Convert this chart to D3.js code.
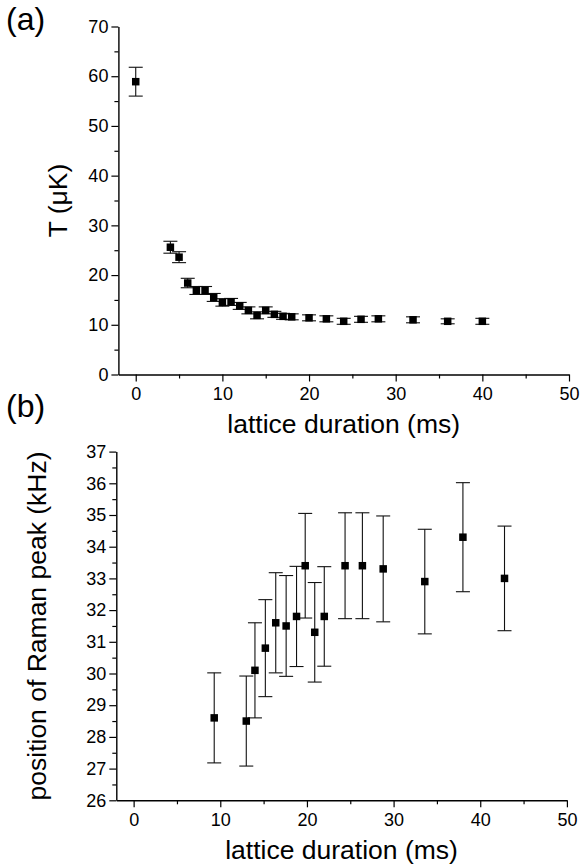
<!DOCTYPE html>
<html><head><meta charset="utf-8">
<script src="https://cdn.jsdelivr.net/npm/d3@7"></script>
<style>
html,body{margin:0;padding:0;background:#fff;}
svg{display:block;font-family:"Liberation Sans",Arial,sans-serif;}
</style></head>
<body>
<script>
// Panel (a): temperature vs lattice duration
const aX = [0,4,5,6,7,8,9,10,11,12,13,14,15,16,17,18,20,22,24,26,28,32,36,40];
const aY = [58.9,25.6,23.6,18.4,16.9,16.9,15.5,14.5,14.6,13.8,12.9,11.9,12.9,12.1,11.7,11.6,11.4,11.2,10.7,11.1,11.2,11.0,10.7,10.7];
const aErr = [2.9,1.2,1.1,0.95,0.8,0.8,0.8,0.75,0.7,0.7,0.7,0.7,0.7,0.6,0.6,0.6,0.6,0.6,0.6,0.6,0.6,0.6,0.5,0.6];
const aXTicks = [0,10,20,30,40,50];
const aYTicks = [0,10,20,30,40,50,60,70];

// Panel (b): Raman peak position vs lattice duration
const bX = [9.3,13.0,14.0,15.2,16.4,17.6,18.8,19.8,20.9,22.0,24.4,26.4,28.8,33.6,38.0,42.8];
const bY = [28.6,28.5,30.1,30.8,31.6,31.5,31.8,33.4,31.3,31.8,33.4,33.4,33.3,32.9,34.3,33.0];
const bErr = [1.42,1.42,1.5,1.53,1.58,1.59,1.58,1.65,1.57,1.57,1.67,1.67,1.67,1.65,1.72,1.65];
const bXTicks = [0,10,20,30,40,50];
const bYTicks = [26,27,28,29,30,31,32,33,34,35,36,37];

const W = 583, H = 867;
const svg = d3.select("body").append("svg").attr("width", W).attr("height", H);

function panel(cfg){
  const g = svg.append("g");
  const x = d3.scaleLinear().domain(cfg.xDom).range(cfg.xRange);
  const y = d3.scaleLinear().domain(cfg.yDom).range(cfg.yRange);
  const y0 = cfg.yRange[0], x0 = cfg.xRange[0];

  // minor ticks
  g.append("g").attr("transform", `translate(0,${y0})`)
    .call(d3.axisBottom(x).tickValues(cfg.xMinor).tickSize(4).tickFormat(""))
    .call(s => s.select(".domain").remove());
  g.append("g").attr("transform", `translate(${x0},0)`)
    .call(d3.axisLeft(y).tickValues(cfg.yMinor).tickSize(4).tickFormat(""))
    .call(s => s.select(".domain").remove());

  // major axes
  const xa = g.append("g").attr("transform", `translate(0,${y0})`)
    .call(d3.axisBottom(x).tickValues(cfg.xTicks).tickSize(7).tickSizeOuter(0).tickPadding(6).tickFormat(d3.format("d")));
  const ya = g.append("g").attr("transform", `translate(${x0},0)`)
    .call(d3.axisLeft(y).tickValues(cfg.yTicks).tickSize(7).tickSizeOuter(0).tickPadding(3).tickFormat(d3.format("d")));
  [xa, ya].forEach(a => {
    a.selectAll("text").attr("font-size", 18).attr("fill", "#000").attr("font-family", '"Liberation Sans",Arial,sans-serif');
    a.selectAll("line").attr("stroke", "#000").attr("stroke-width", 1.2);
    a.select(".domain").attr("stroke", "#000").attr("stroke-width", 1.4);
  });
  g.selectAll("g.tick line").attr("stroke", "#000").attr("stroke-width", 1.2);

  // error bars
  const eb = g.append("g").attr("stroke", "#111").attr("stroke-width", 1.1).attr("fill", "none");
  cfg.xs.forEach((xv, i) => {
    const cx = x(xv), yt = y(cfg.ys[i] + cfg.errs[i]), yb = y(cfg.ys[i] - cfg.errs[i]);
    eb.append("line").attr("x1", cx).attr("x2", cx).attr("y1", yt).attr("y2", yb);
    eb.append("line").attr("x1", cx - 7).attr("x2", cx + 7).attr("y1", yt).attr("y2", yt);
    eb.append("line").attr("x1", cx - 7).attr("x2", cx + 7).attr("y1", yb).attr("y2", yb);
  });
  // markers
  const s = 7.5;
  g.append("g").selectAll("rect").data(cfg.xs).join("rect")
    .attr("x", (d) => x(d) - s/2)
    .attr("y", (d, i) => y(cfg.ys[i]) - s/2)
    .attr("width", s).attr("height", s).attr("fill", "#000");

  // axis titles
  g.append("text").attr("x", (cfg.xRange[0] + cfg.xRange[1]) / 2).attr("y", cfg.xTitleY)
    .attr("text-anchor", "middle").attr("font-size", 26.5).text("lattice duration (ms)");
  g.append("text")
    .attr("transform", `translate(${cfg.yTitleX},${(cfg.yRange[0] + cfg.yRange[1]) / 2}) rotate(-90)`)
    .attr("text-anchor", "middle").attr("font-size", 26.5).text(cfg.yTitle);
  g.append("text").attr("x", 6).attr("y", cfg.labelY).attr("font-size", 32).text(cfg.label);
}

panel({
  xDom: [-2, 50], xRange: [118.4, 569.0],
  yDom: [0, 70], yRange: [374.5, 26.5],
  xTicks: aXTicks, yTicks: aYTicks,
  xMinor: [5,15,25,35,45], yMinor: [5,15,25,35,45,55,65],
  xs: aX, ys: aY, errs: aErr,
  xTitleY: 433, yTitleX: 67, yTitle: "T (\u03BCK)",
  label: "(a)", labelY: 30
});

panel({
  xDom: [-2, 50], xRange: [116.3, 566.9],
  yDom: [26, 37], yRange: [800.3, 451.6],
  xTicks: bXTicks, yTicks: bYTicks,
  xMinor: [5,15,25,35,45], yMinor: d3.range(26.5, 37, 1),
  xs: bX, ys: bY, errs: bErr,
  xTitleY: 859, yTitleX: 46, yTitle: "position of Raman peak (kHz)",
  label: "(b)", labelY: 417
});
</script>
</body></html>
